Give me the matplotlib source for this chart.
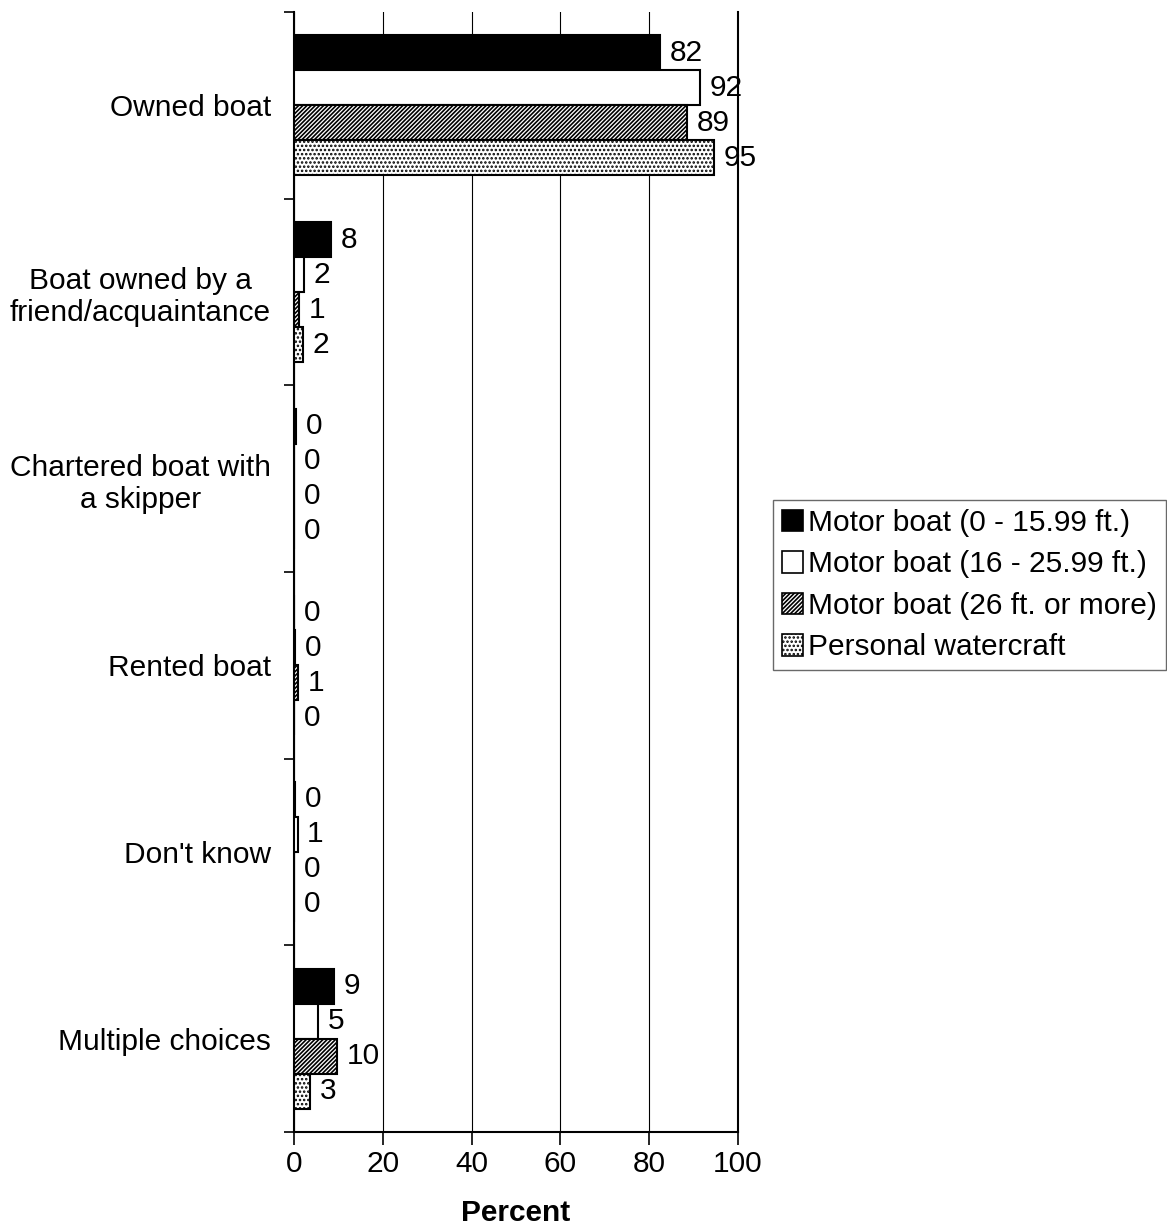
import numpy as np
import matplotlib.pyplot as plt
from matplotlib.patches import Patch

plt.rcParams['font.family'] = ['Liberation Sans', 'DejaVu Sans']
plt.rcParams['hatch.linewidth'] = 1.2

categories = ["Owned boat", "Boat owned by a\nfriend/acquaintance",
              "Chartered boat with\na skipper", "Rented boat",
              "Don't know", "Multiple choices"]
series = ["Motor boat (0 - 15.99 ft.)", "Motor boat (16 - 25.99 ft.)",
          "Motor boat (26 ft. or more)", "Personal watercraft"]

# bar lengths and the rounded labels shown
small_boat = [82.4, 8.3, 0.4, 0.0, 0.2, 9.0]
mid_boat = [91.5, 2.3, 0.0, 0.2, 0.8, 5.4]
big_boat = [88.6, 1.1, 0.0, 0.9, 0.0, 9.7]
pwc = [94.6, 2.0, 0.0, 0.0, 0.0, 3.6]

labels_small = [82, 8, 0, 0, 0, 9]
labels_mid = [92, 2, 0, 0, 1, 5]
labels_big = [89, 1, 0, 1, 0, 10]
labels_pwc = [95, 2, 0, 0, 0, 3]

values = [small_boat, mid_boat, big_boat, pwc]
labels = [labels_small, labels_mid, labels_big, labels_pwc]
faces = ["black", "white", "white", "white"]
hatches = [None, None, "////////", "...."]

FS = 21.5

fig = plt.figure(figsize=(11.67, 12.28), dpi=100)
ax = fig.add_axes([0.2519, 0.0782, 0.3805, 0.912])

y = np.arange(len(categories))
h = 0.1875
for i in range(4):
    pos = y + (i - 1.5) * h
    bars = ax.barh(pos, values[i], height=h, color=faces[i], hatch=hatches[i],
                   edgecolor="black", linewidth=1.5, zorder=3)
    ax.bar_label(bars, labels=[str(v) for v in labels[i]], padding=7,
                 fontsize=FS, zorder=4)

ax.set_xlim(0, 100)
ax.set_ylim(len(categories) - 0.5, -0.5)
ax.set_xticks([0, 20, 40, 60, 80, 100])
ax.tick_params(axis="x", labelsize=FS, length=9, width=1.2, pad=4)
ax.set_yticks(y)
ax.set_yticklabels(categories, fontsize=FS, ha="right", multialignment="center")
ax.tick_params(axis="y", which="major", length=0, pad=16.5)
ax.set_yticks(np.arange(-0.5, len(categories), 1), minor=True)
ax.tick_params(axis="y", which="minor", length=7, width=1.2)
ax.xaxis.grid(True, color="black", linewidth=0.8, zorder=0)
ax.set_axisbelow(True)
ax.set_xlabel("Percent", fontsize=FS, fontweight="bold", labelpad=15)

ax.spines["top"].set_visible(False)
for s in ["left", "right", "bottom"]:
    ax.spines[s].set_linewidth(1.5)

handles = [Patch(facecolor=faces[i], edgecolor="black", hatch=hatches[i],
                 linewidth=1.2, label=series[i]) for i in range(4)]
leg = fig.legend(handles=handles, loc="upper left", bbox_to_anchor=(0.6624, 0.5928),
                 fontsize=FS, frameon=True, fancybox=False, handlelength=0.72,
                 handleheight=0.72, handletextpad=0.15, borderpad=0.3,
                 labelspacing=0.45, borderaxespad=0)
leg.get_frame().set_edgecolor("#444444")
leg.get_frame().set_linewidth(1)

fig.savefig("out.png", dpi=100)
